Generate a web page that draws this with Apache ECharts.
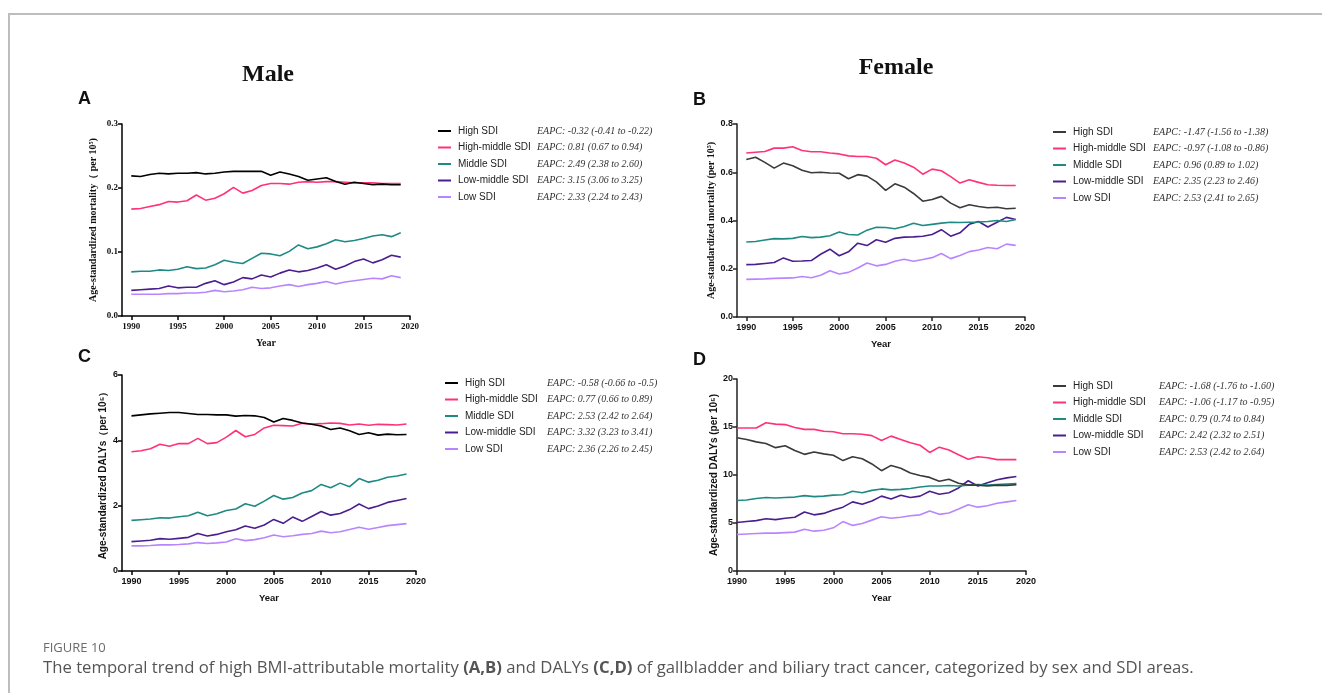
<!DOCTYPE html>
<html>
<head>
<meta charset="utf-8">
<script src="https://cdn.jsdelivr.net/npm/echarts@6.0.0/dist/echarts.min.js"></script>
<style>
  html, body { margin: 0; padding: 0; background: #fff; }
  #chart { position: absolute; left: 0; top: 0; width: 1322px; height: 693px; }
  #frame { position: absolute; left: 8px; top: 13px; width: 1330px; height: 700px;
           border-left: 2px solid #bdbdbd; border-top: 2px solid #bdbdbd; }
  #fig { position: absolute; left: 43px; top: 638px; font-family: 'Open Sans', sans-serif;
         font-size: 13px; color: #6b6b6b; }
  #cap { position: absolute; left: 43px; top: 655px; font-family: 'Open Sans', sans-serif;
         font-size: 16.7px; color: #555; white-space: nowrap; }
  #cap b { font-weight: 700; color: #555; }
</style>
</head>
<body>
<div id="frame"></div>
<div id="chart"></div>
<div id="fig">FIGURE 10</div>
<div id="cap">The temporal trend of high BMI-attributable mortality <b>(A,B)</b> and DALYs <b>(C,D)</b> of gallbladder and biliary tract cancer, categorized by sex and SDI areas.</div>
<script>
// ---------- DATA ----------
const years = [1990,1991,1992,1993,1994,1995,1996,1997,1998,1999,2000,2001,2002,2003,2004,2005,2006,2007,2008,2009,2010,2011,2012,2013,2014,2015,2016,2017,2018,2019];
const seriesNames = ['High SDI','High-middle SDI','Middle SDI','Low-middle SDI','Low SDI'];
const xTickLabels = [1990,1995,2000,2005,2010,2015,2020];

// Panel A: male mortality
const maleMortHigh    = [0.219,0.218,0.221,0.223,0.222,0.223,0.223,0.224,0.222,0.223,0.225,0.226,0.226,0.226,0.226,0.220,0.225,0.222,0.218,0.212,0.214,0.216,0.210,0.206,0.209,0.207,0.205,0.206,0.205,0.205];
const maleMortHighMid = [0.167,0.168,0.171,0.174,0.179,0.178,0.180,0.189,0.181,0.184,0.191,0.201,0.192,0.196,0.204,0.207,0.207,0.206,0.209,0.210,0.209,0.210,0.210,0.209,0.208,0.208,0.208,0.207,0.207,0.207];
const maleMortMid     = [0.069,0.070,0.070,0.072,0.071,0.073,0.077,0.074,0.075,0.080,0.087,0.084,0.082,0.090,0.098,0.097,0.094,0.101,0.111,0.105,0.108,0.113,0.119,0.116,0.118,0.121,0.125,0.127,0.124,0.130];
const maleMortLowMid  = [0.040,0.041,0.042,0.043,0.047,0.044,0.045,0.045,0.051,0.055,0.049,0.053,0.060,0.058,0.064,0.061,0.067,0.072,0.069,0.071,0.075,0.080,0.073,0.078,0.085,0.089,0.083,0.088,0.095,0.092];
const maleMortLow     = [0.034,0.034,0.034,0.034,0.035,0.035,0.036,0.036,0.037,0.040,0.038,0.039,0.041,0.045,0.043,0.044,0.047,0.049,0.046,0.049,0.051,0.054,0.050,0.053,0.055,0.057,0.059,0.058,0.063,0.060];
const maleMortEAPC = ['EAPC: -0.32 (-0.41 to -0.22)','EAPC: 0.81 (0.67 to 0.94)','EAPC: 2.49 (2.38 to 2.60)','EAPC: 3.15 (3.06 to 3.25)','EAPC: 2.33 (2.24 to 2.43)'];

// Panel B: female mortality
const femMortHigh    = [0.653,0.662,0.641,0.617,0.638,0.627,0.608,0.598,0.600,0.597,0.596,0.573,0.590,0.584,0.560,0.525,0.552,0.538,0.512,0.480,0.487,0.500,0.472,0.453,0.465,0.458,0.453,0.455,0.449,0.451];
const femMortHighMid = [0.680,0.683,0.686,0.700,0.700,0.706,0.690,0.685,0.685,0.680,0.676,0.668,0.665,0.665,0.658,0.631,0.651,0.638,0.621,0.592,0.613,0.606,0.582,0.555,0.569,0.558,0.548,0.546,0.545,0.545];
const femMortMid     = [0.311,0.313,0.319,0.325,0.324,0.326,0.334,0.329,0.331,0.337,0.352,0.342,0.340,0.360,0.372,0.371,0.366,0.375,0.389,0.379,0.384,0.389,0.393,0.392,0.393,0.394,0.396,0.400,0.396,0.404];
const femMortLowMid  = [0.217,0.218,0.222,0.226,0.245,0.231,0.232,0.234,0.260,0.281,0.254,0.270,0.306,0.296,0.320,0.310,0.326,0.331,0.332,0.335,0.342,0.362,0.335,0.349,0.384,0.396,0.373,0.393,0.413,0.404];
const femMortLow     = [0.156,0.157,0.158,0.160,0.161,0.162,0.168,0.163,0.173,0.192,0.178,0.185,0.203,0.224,0.212,0.218,0.231,0.239,0.231,0.238,0.246,0.263,0.242,0.255,0.271,0.278,0.288,0.283,0.302,0.297];
const femMortEAPC = ['EAPC: -1.47 (-1.56 to -1.38)','EAPC: -0.97 (-1.08 to -0.86)','EAPC: 0.96 (0.89 to 1.02)','EAPC: 2.35 (2.23 to 2.46)','EAPC: 2.53 (2.41 to 2.65)'];

// Panel C: male DALYs
const maleDalyHigh    = [4.75,4.78,4.81,4.83,4.85,4.85,4.82,4.79,4.79,4.78,4.78,4.74,4.76,4.75,4.70,4.56,4.67,4.61,4.53,4.49,4.44,4.33,4.38,4.29,4.18,4.23,4.16,4.19,4.17,4.18];
const maleDalyHighMid = [3.65,3.68,3.74,3.88,3.82,3.90,3.90,4.06,3.90,3.93,4.10,4.30,4.11,4.18,4.38,4.46,4.45,4.44,4.52,4.50,4.51,4.53,4.52,4.47,4.50,4.46,4.49,4.48,4.47,4.50];
const maleDalyMid     = [1.55,1.57,1.59,1.63,1.62,1.66,1.69,1.80,1.69,1.75,1.85,1.90,2.06,1.98,2.14,2.31,2.20,2.25,2.39,2.46,2.65,2.55,2.69,2.58,2.83,2.72,2.78,2.87,2.91,2.97];
const maleDalyLowMid  = [0.90,0.92,0.94,0.99,0.97,1.00,1.03,1.15,1.07,1.12,1.20,1.26,1.38,1.31,1.41,1.58,1.46,1.65,1.52,1.67,1.82,1.71,1.76,1.88,2.05,1.91,1.99,2.10,2.16,2.22];
const maleDalyLow     = [0.77,0.77,0.78,0.80,0.80,0.81,0.83,0.87,0.84,0.86,0.89,0.99,0.93,0.96,1.02,1.10,1.05,1.08,1.12,1.15,1.22,1.17,1.20,1.27,1.34,1.28,1.33,1.39,1.42,1.45];
const maleDalyEAPC = ['EAPC: -0.58 (-0.66 to -0.5)','EAPC: 0.77 (0.66 to 0.89)','EAPC: 2.53 (2.42 to 2.64)','EAPC: 3.32 (3.23 to 3.41)','EAPC: 2.36 (2.26 to 2.45)'];

// Panel D: female DALYs
const femDalyHigh    = [13.88,13.70,13.45,13.28,12.85,13.05,12.55,12.15,12.40,12.20,12.05,11.50,11.90,11.70,11.15,10.45,11.00,10.70,10.20,9.95,9.75,9.35,9.55,9.15,8.95,8.95,8.85,8.95,8.90,9.00];
const femDalyHighMid = [14.90,14.90,14.90,15.45,15.30,15.25,14.95,14.75,14.75,14.55,14.50,14.30,14.30,14.25,14.10,13.60,14.05,13.70,13.35,13.10,12.35,12.90,12.60,12.10,11.65,11.90,11.80,11.60,11.60,11.60];
const femDalyMid     = [7.35,7.40,7.55,7.65,7.60,7.65,7.70,7.85,7.75,7.80,7.90,7.95,8.30,8.15,8.40,8.55,8.45,8.50,8.60,8.75,8.85,8.85,8.90,8.85,8.95,9.00,8.95,9.00,9.05,9.10];
const femDalyLowMid  = [5.05,5.15,5.25,5.45,5.35,5.50,5.60,6.15,5.85,6.00,6.35,6.65,7.20,6.95,7.30,7.80,7.50,7.90,7.65,7.80,8.30,8.00,8.15,8.65,9.40,8.85,9.20,9.50,9.70,9.85];
const femDalyLow     = [3.80,3.85,3.90,3.95,3.95,4.00,4.05,4.35,4.15,4.25,4.50,5.15,4.75,4.95,5.30,5.65,5.50,5.60,5.75,5.85,6.25,5.90,6.05,6.45,6.90,6.65,6.80,7.05,7.20,7.35];
const femDalyEAPC = ['EAPC: -1.68 (-1.76 to -1.60)','EAPC: -1.06 (-1.17 to -0.95)','EAPC: 0.79 (0.74 to 0.84)','EAPC: 2.42 (2.32 to 2.51)','EAPC: 2.53 (2.42 to 2.64)'];

// ---------- STYLE ----------
const SERIF = "'Liberation Serif','Times New Roman',serif";
const SANS = "'Liberation Sans',Arial,sans-serif";
const colorsDark = ['#000000','#ff3374','#1f8a84','#4b1e90','#b985ff'];
const colorsGray = ['#3a3a3a','#ff3374','#1f8a84','#4b1e90','#b985ff'];

const panels = [
  { data: [maleMortHigh, maleMortHighMid, maleMortMid, maleMortLowMid, maleMortLow], eapc: maleMortEAPC,
    grid: {left:122, top:124, width:288, height:192}, xmin:1989, ymax:0.3, yint:0.1, dec:1,
    font: SERIF, colors: colorsDark, yname: 'Age-standardized mortality（ per 10⁵)', ynameFont: SERIF, ynameGap: 24,
    legend: {left:438, top:126, nameW:79} },
  { data: [femMortHigh, femMortHighMid, femMortMid, femMortLowMid, femMortLow], eapc: femMortEAPC,
    grid: {left:737, top:124, width:288, height:193}, xmin:1989, ymax:0.8, yint:0.2, dec:1,
    font: SANS, colors: colorsGray, yname: 'Age-standardized mortality (per 10⁵)', ynameFont: SERIF, ynameGap: 16,
    legend: {left:1053, top:127, nameW:80} },
  { data: [maleDalyHigh, maleDalyHighMid, maleDalyMid, maleDalyLowMid, maleDalyLow], eapc: maleDalyEAPC,
    grid: {left:122, top:375, width:294, height:196}, xmin:1989, ymax:6, yint:2, dec:0,
    font: SANS, colors: colorsDark, yname: 'Age-standardized DALYs（per 10⁵）', ynameFont: SANS, ynameGap: 14,
    legend: {left:445, top:378, nameW:82} },
  { data: [femDalyHigh, femDalyHighMid, femDalyMid, femDalyLowMid, femDalyLow], eapc: femDalyEAPC,
    grid: {left:737, top:379, width:289, height:192}, xmin:1990, ymax:20, yint:5, dec:0,
    font: SANS, colors: colorsGray, yname: 'Age-standardized DALYs (per 10⁵)', ynameFont: SANS, ynameGap: 16,
    legend: {left:1053, top:381, nameW:86} }
];

const option = {
  animation: false,
  backgroundColor: 'transparent',
  title: [
    { text: 'Male', left: 263, top: 58, textAlign: 'center', textStyle: { fontFamily: SERIF, fontWeight: 'bold', fontSize: 24, color: '#111' } },
    { text: 'Female', left: 891, top: 51, textAlign: 'center', textStyle: { fontFamily: SERIF, fontWeight: 'bold', fontSize: 24, color: '#111' } },
    { text: 'A', left: 73, top: 85, textStyle: { fontFamily: SANS, fontWeight: 'bold', fontSize: 18, color: '#111' } },
    { text: 'B', left: 688, top: 86, textStyle: { fontFamily: SANS, fontWeight: 'bold', fontSize: 18, color: '#111' } },
    { text: 'C', left: 73, top: 343, textStyle: { fontFamily: SANS, fontWeight: 'bold', fontSize: 18, color: '#111' } },
    { text: 'D', left: 688, top: 346, textStyle: { fontFamily: SANS, fontWeight: 'bold', fontSize: 18, color: '#111' } }
  ],
  grid: [], xAxis: [], yAxis: [], series: [], legend: []
};

panels.forEach((p, i) => {
  option.grid.push(Object.assign({ containLabel: false }, p.grid));
  const axisColor = i === 0 || i === 2 ? '#000' : '#222';
  const labelStyle = { fontFamily: p.font, fontWeight: 'bold', fontSize: 9, color: '#111' };
  option.xAxis.push({
    type: 'value', gridIndex: i, min: p.xmin, max: 2020,
    name: 'Year', nameLocation: 'middle', nameGap: 22,
    nameTextStyle: { fontFamily: p.font, fontWeight: 'bold', fontSize: i === 0 ? 10 : 9.5, color: '#111' },
    axisLine: { show: true, onZero: false, lineStyle: { color: axisColor, width: 1.5 } },
    axisTick: { show: true, length: 4, customValues: xTickLabels, lineStyle: { color: axisColor, width: 1.5 } },
    axisLabel: { customValues: xTickLabels, margin: 6, formatter: v => String(v), ...labelStyle },
    splitLine: { show: false }
  });
  option.yAxis.push({
    type: 'value', gridIndex: i, min: 0, max: p.ymax, interval: p.yint,
    name: p.yname, nameLocation: 'middle', nameGap: p.ynameGap, nameRotate: 90,
    nameTextStyle: { fontFamily: p.ynameFont, fontWeight: 'bold', fontSize: 10, color: '#111' },
    axisLine: { show: true, lineStyle: { color: axisColor, width: 1.5 } },
    axisTick: { show: true, length: 4, lineStyle: { color: axisColor, width: 1.5 } },
    axisLabel: { margin: 4, formatter: v => v.toFixed(p.dec), ...labelStyle },
    splitLine: { show: false }
  });
  p.data.forEach((vals, k) => {
    option.series.push({
      type: 'line', name: seriesNames[k], xAxisIndex: i, yAxisIndex: i,
      data: years.map((y, j) => [y, vals[j]]),
      showSymbol: false, symbol: 'none', smooth: false,
      lineStyle: { color: p.colors[k], width: 1.6 },
      itemStyle: { color: p.colors[k] }, z: 10 - k
    });
  });
  const eapc = p.eapc;
  option.legend.push({
    left: p.legend.left, top: p.legend.top, orient: 'vertical', padding: 0,
    selectedMode: false, icon: 'rect', itemWidth: 13, itemHeight: 2, itemGap: 6.5,
    data: seriesNames.map((n, k) => ({ name: n, itemStyle: { color: p.colors[k] } })),
    formatter: name => '{n|' + name + '}{e|' + eapc[seriesNames.indexOf(name)] + '}',
    textStyle: {
      padding: [0, 0, 0, 2],
      rich: {
        n: { width: p.legend.nameW, fontFamily: SANS, fontSize: 10, color: '#222' },
        e: { fontFamily: SERIF, fontStyle: 'italic', fontSize: 10, color: '#333' }
      }
    }
  });
});

const chart = echarts.init(document.getElementById('chart'), null, { renderer: 'canvas' });
chart.setOption(option);
</script>
</body>
</html>
